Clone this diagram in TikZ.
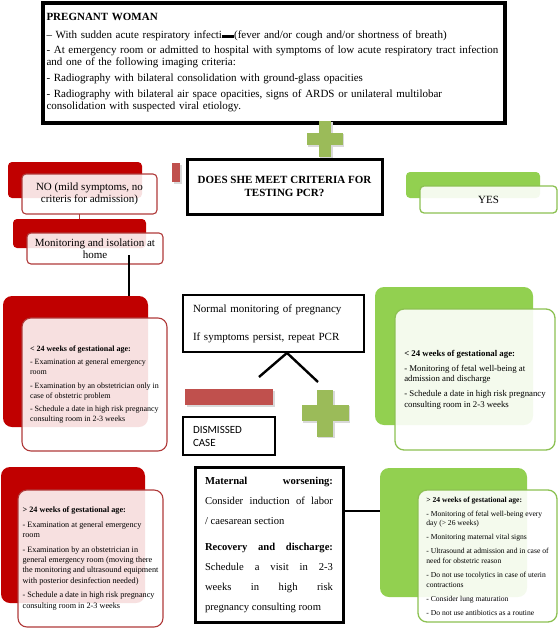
\documentclass[tikz,border=0pt]{standalone}
\usepackage{fontspec}
\setmainfont{Liberation Serif}
\newfontfamily\labelsans{Carlito}
\usepackage{xcolor}
\usetikzlibrary{shadows}
\definecolor{backRed}{HTML}{C00000}
\definecolor{lineRed}{HTML}{B03A3A}
\definecolor{minusRed}{HTML}{C0504D}
\definecolor{backGreen}{HTML}{92D050}
\definecolor{lineGreen}{HTML}{8CC152}
\definecolor{plusGreen}{HTML}{9BBB59}
\definecolor{shadowGray}{HTML}{D9D9D9}

\tikzset{
  frame/.style={draw=black, line width=3pt, fill=white,
    drop shadow={shadow xshift=2pt, shadow yshift=-2pt, fill=black!35}},
  thinframe/.style={draw=black, line width=1.8pt, fill=white},
  redback/.style={fill=backRed, rounded corners=9pt, inner sep=0pt},
  redfront/.style={draw=lineRed, line width=1.1pt, fill=white, fill opacity=0.88,
    text opacity=1, rounded corners=9pt},
  greenback/.style={fill=backGreen, rounded corners=9pt, inner sep=0pt},
  greenfront/.style={draw=lineGreen, line width=1.3pt, fill=white, fill opacity=0.9,
    text opacity=1, rounded corners=9pt},
  boxtext/.style={align=left, inner xsep=2pt},
  link/.style={line width=2.4pt},
  plussign/.pic={
    \fill[shadowGray] (-0.92,-0.28) rectangle (1.08,0.44);
    \fill[shadowGray] (-0.28,-0.92) rectangle (0.44,1.08);
    \fill[plusGreen] (-1,-0.36) rectangle (1,0.36);
    \fill[plusGreen] (-0.36,-1) rectangle (0.36,1);
  }
}

\begin{document}
\begin{tikzpicture}[x=1pt, y=-1pt]
    \useasboundingbox (0,0) rectangle (559,629);

    % woman and test question
    \node[frame, line width=3.5pt, minimum width=462pt, minimum height=120pt,
          text width=455pt, inner xsep=3.5pt, align=left,
          font=\fontsize{11}{12}\selectfont] (woman) at (274,63)
        {\textbf{PREGNANT WOMAN}\\[6pt]
         -- With sudden acute respiratory infecti\rule[0.25ex]{1.1em}{0.45ex}(fever and/or cough and/or shortness of breath)\\[3pt]
         - At emergency room or admitted to hospital with symptoms of low acute respiratory tract infection\\
         and one of the following imaging criteria:\\[4pt]
         - Radiography with bilateral consolidation with ground-glass opacities\\[4pt]
         - Radiography with bilateral air space opacities, signs of ARDS or unilateral multilobar\\
         consolidation with suspected viral etiology.};
    \pic[scale=18] at (325,139) {plussign};

    \node[frame, minimum width=195pt, minimum height=55pt, align=center,
          font=\bfseries\fontsize{11}{12.5}\selectfont] (question) at (284.5,186.5)
        {DOES SHE MEET CRITERIA FOR\\TESTING PCR?};
    \fill[shadowGray] (174,165) rectangle (182,184);
    \fill[minusRed] (172,163) rectangle (180,182);

    % no branch
    \node[redback, rounded corners=4pt, minimum width=134pt, minimum height=36pt] (noback) at (75,180) {};
    \node[redfront, rounded corners=4pt, minimum width=135pt, minimum height=40pt, align=center,
          font=\fontsize{11}{11.5}\selectfont] (nofront) at (89.5,194)
        {NO (mild symptoms, no\\criteris for admission)};
    \draw[lineRed, line width=0.8pt] (79.5,214) -- (79.5,219);
    \node[redback, rounded corners=4pt, minimum width=133pt, minimum height=29pt] (monback) at (79.5,233.5) {};
    \node[redfront, rounded corners=4pt, minimum width=136pt, minimum height=31pt, align=center,
          font=\fontsize{11}{11.5}\selectfont] (monfront) at (95,248.5)
        {Monitoring and isolation at\\home};

    % yes branch
    \node[greenback, rounded corners=4pt, minimum width=134pt, minimum height=26pt] (yesback) at (473,185) {};
    \node[greenfront, rounded corners=4pt, minimum width=137pt, minimum height=27pt,
          font=\fontsize{11}{12}\selectfont] (yesfront) at (488.5,199.5) {YES};

    % under 24 weeks, mild
    \node[redback, minimum width=145pt, minimum height=131pt] (ltback) at (75.5,361.5) {};
    \node[redfront, boxtext, minimum width=145pt, minimum height=133pt,
          font=\fontsize{8}{10}\selectfont] (ltfront) at (94.5,384.5)
        {\textbf{< 24 weeks of gestational age:}\\[3.3pt]
         - Examination at general emergency\\ room\\[3.3pt]
         - Examination by an obstetrician only in\\ case of obstetric problem\\[3.3pt]
         - Schedule a date in high risk pregnancy\\ consulting room in 2-3 weeks};
    \coordinate (mondrop) at (129,255);
    \draw[link] (mondrop) -- (mondrop |- ltback.north);

    % repeat test
    \node[thinframe, minimum width=181pt, minimum height=57pt, text width=161pt, inner xsep=10pt,
          align=left, font=\fontsize{11}{28}\selectfont] (normal) at (273.5,323.5)
        {Normal monitoring of pregnancy\\If symptoms persist, repeat PCR};
    \path (normal.south) ++(13.5,0) coordinate (apex);
    \coordinate (negend) at (259,377);
    \coordinate (posend) at (318,382);
    \draw[link] (negend) -- (apex) -- (posend);

    \fill[shadowGray] (187,391) rectangle (275,407);
    \fill[minusRed] (185,389) rectangle (273,405);
    \pic[scale=23.5] at (325,413) {plussign};
    \node[thinframe, minimum width=92pt, minimum height=38pt, text width=72pt, inner xsep=10pt,
          align=left, font=\labelsans\fontsize{11}{13}\selectfont] (dismissed) at (229,436)
        {DISMISSED\\CASE};

    % under 24 weeks, positive
    \node[greenback, minimum width=158pt, minimum height=138pt] (rtback) at (454,356) {};
    \node[greenfront, boxtext, minimum width=160pt, minimum height=141pt,
          font=\fontsize{8.8}{10.5}\selectfont] (rtfront) at (475,379.5)
        {\textbf{< 24 weeks of gestational age:}\\[4.5pt]
         - Monitoring of fetal well-being at\\ admission and discharge\\[4.5pt]
         - Schedule a date in high risk pregnancy\\ consulting room in 2-3 weeks};

    % over 24 weeks, mild
    \node[redback, minimum width=144pt, minimum height=136pt] (gtback) at (73,535) {};
    \node[redfront, boxtext, minimum width=145pt, minimum height=137pt,
          font=\fontsize{8.2}{10.4}\selectfont] (gtfront) at (90.5,558.5)
        {\textbf{> 24 weeks of gestational age:}\\[4pt]
         - Examination at general emergency\\ room\\[4pt]
         - Examination by an obstetrician in\\ general emergency room (moving there\\ the monitoring and ultrasound equipment\\ with posterior desinfection needed)\\[4pt]
         - Schedule a date in high risk pregnancy\\ consulting room in 2-3 weeks};

    % worsening / discharge
    \node[frame, minimum width=148pt, minimum height=155pt, text width=128pt, inner xsep=10pt,
          align=justify, font=\fontsize{10.6}{20}\selectfont] (care) at (269,544.5)
        {\textbf{Maternal worsening:}\linebreak
         Consider induction of labor\linebreak
         / caesarean section\par\vspace{6pt}
         \textbf{Recovery and discharge:}\linebreak
         Schedule a visit in 2-3\linebreak
         weeks in high risk\linebreak
         pregnancy consulting room};

    % over 24 weeks, positive
    \coordinate (worseny) at (0,511);
    \draw[link] (care.east |- worseny) -- (380,511);
    \node[greenback, minimum width=147pt, minimum height=129pt] (grback) at (453.5,532.5) {};
    \node[greenfront, boxtext, minimum width=139pt, minimum height=132pt,
          font=\fontsize{7.6}{9.6}\selectfont] (grfront) at (487.5,556)
        {\textbf{> 24 weeks of gestational age:}\\[4.4pt]
         - Monitoring of fetal well-being every\\ day (> 26 weeks)\\[4.4pt]
         - Monitoring maternal vital signs\\[4.4pt]
         - Ultrasound at admission and in case of\\ need for obstetric reason\\[4.4pt]
         - Do not use tocolytics in case of uterin\\ contractions\\[4.4pt]
         - Consider lung maturation\\[4.4pt]
         - Do not use antibiotics as a routine};
\end{tikzpicture}
\end{document}
